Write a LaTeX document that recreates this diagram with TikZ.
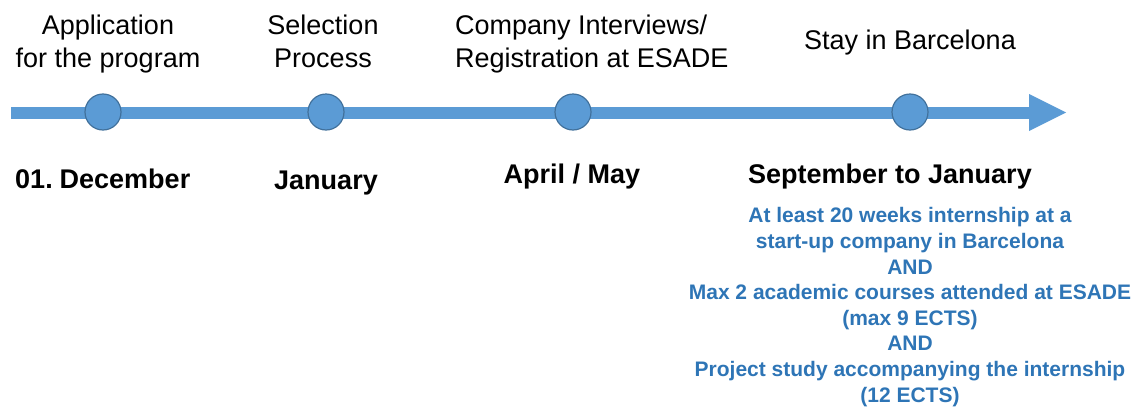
\documentclass[tikz,border=0pt]{standalone}
\usepackage{fontspec}
\setmainfont{Liberation Sans}
\definecolor{barblue}{HTML}{5B9BD5}
\definecolor{ringblue}{HTML}{41719C}
\definecolor{textblue}{HTML}{2E75B6}
\begin{document}
\begin{tikzpicture}[x=1pt,y=-1pt,
  dot/.style={circle,fill=barblue,draw=ringblue,line width=1.2pt,minimum size=36pt,inner sep=0pt},
  toplbl/.style={font=\fontsize{27}{33}\selectfont,text=black,inner sep=0pt},
  datelbl/.style={font=\fontsize{27}{33}\selectfont\bfseries,text=black,inner sep=0pt,anchor=base},
  infolbl/.style={align=center,font=\fontsize{21}{25.6}\selectfont\bfseries,text=textblue,inner sep=0pt}]
\useasboundingbox (0,0) rectangle (1141,407);
% timeline arrow
\coordinate (start) at (11,112.5);
\coordinate (end) at (1066,112.5);
\fill[barblue] (11,106.5) rectangle (1030,118.5);
\fill[barblue] (1029,94) -- (end) -- (1029,131) -- cycle;
% dots
\node[dot] (c1) at (103,112) {};
\node[dot] (c2) at (326,112) {};
\node[dot] (c3) at (573,112) {};
\node[dot] (c4) at (910,112) {};
% top labels
\node[toplbl,align=center] (t1) at (108,44.5) {Application\\for the program};
\node[toplbl,align=center] (t2) at (323,41.8) {Selection\\Process};
\node[toplbl,align=left,anchor=west] (t3) at (455,44.5) {Company Interviews/\\Registration at ESADE};
\node[toplbl] (t4) at (910,43) {Stay in Barcelona};
% dates
\node[datelbl] (n0) at (34,188) {01.};
\node[datelbl] (d1) at (125,188) {December};
\node[datelbl] (d2) at (326,189) {January};
\node[datelbl] (d3) at (572,183) {April / May};
\node[datelbl] (d4) at (890,183) {September to January};
% info
\node[infolbl] (info) at (910,307) {At least 20 weeks internship at a\\start-up company in Barcelona\\AND\\Max 2 academic courses attended at ESADE\\(max 9 ECTS)\\AND\\Project study accompanying the internship\\(12 ECTS)};
\end{tikzpicture}
\end{document}
